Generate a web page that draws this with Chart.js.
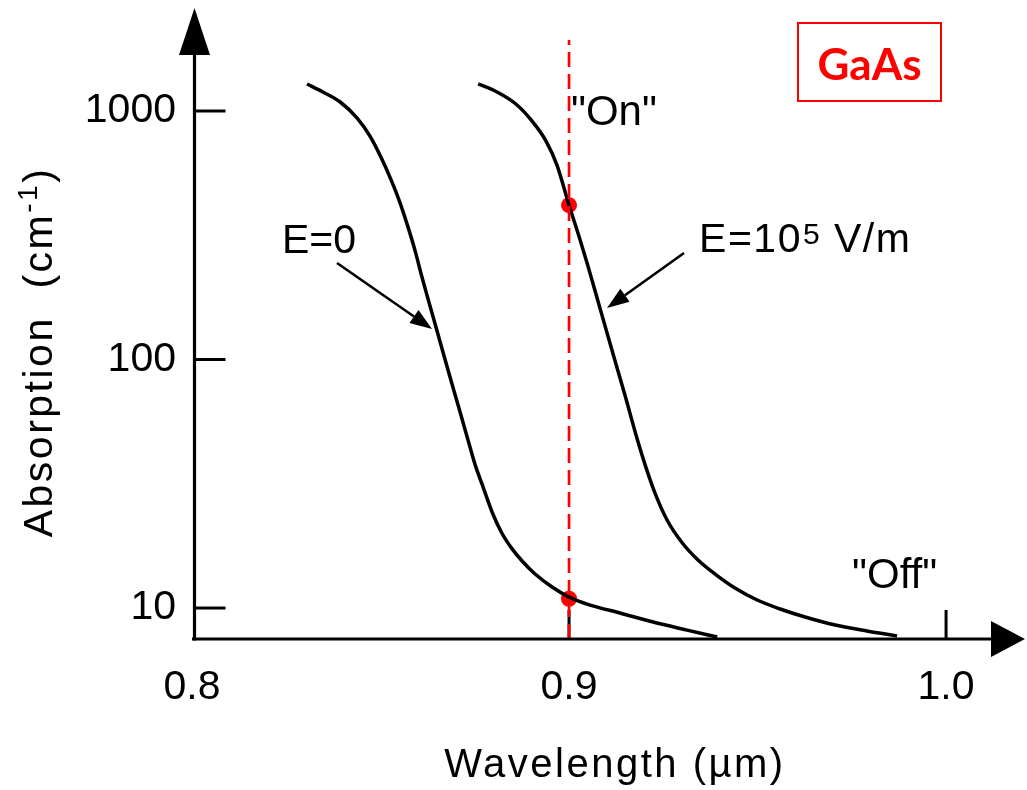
<!DOCTYPE html>
<html>
<head>
<meta charset="utf-8">
<script src="https://cdn.jsdelivr.net/npm/chart.js@4/dist/chart.umd.min.js"></script>
<style>
html,body{margin:0;padding:0;background:#ffffff;}
#wrap{width:1027px;height:790px;position:relative;}
</style>
</head>
<body>
<div id="wrap"><canvas id="c"></canvas></div>
<script>
// ---- data ----
const wavelengthE0 = [0.8305,0.8347,0.8393,0.8438,0.8472,0.8501,0.8528,0.8552,0.8573,0.8592,0.8607,0.8623,0.8642,0.8676,0.8711,0.8735,0.8753,0.8769,0.8798,0.8822,0.8849,0.8875,0.8910,0.8955,0.9000,0.9056,0.9135,0.9223,0.9313,0.9393];
const absorptionE0 = [1285,1193,1087,937,793,653,528,426,341,273,223,182,144,94.1,61.5,45.7,36.9,31.6,23.9,20.0,17.3,15.5,13.7,12.15,11.07,10.28,9.55,8.78,8.15,7.64];
const wavelengthE5 = [0.8759,0.8809,0.8859,0.8902,0.8939,0.8968,0.9000,0.9027,0.9048,0.9064,0.9082,0.9117,0.9149,0.9180,0.9202,0.9228,0.9260,0.9300,0.9342,0.9390,0.9440,0.9499,0.9560,0.9626,0.9706,0.9790,0.9870];
const absorptionE5 = [1285,1193,1067,911,757,606,418,311,244,201,161,105,71.3,48.3,37.6,29.0,22.6,18.3,15.6,13.6,12.04,10.77,9.91,9.20,8.54,8.08,7.72];
const markerWavelength = [0.9, 0.9];
const markerAbsorption = [10.9, 418];
const guideWavelength = [0.9, 0.9];
const guideAbsorption = [7.505, 1931];
const xTickValues = [0.8, 0.9, 1.0];
const xTickMarks = [0.9, 1.0];
const yTickValues = [10, 100, 1000];
const xRange = [0.8, 1.0212];
const yRange = [7.505, 2597];

const FONT = "'Liberation Sans', Arial, Helvetica, sans-serif";
const pts = (xs, ys) => xs.map((v, i) => ({x: v, y: ys[i]}));

function arrow(ctx, x1, y1, x2, y2, len, half) {
  const a = Math.atan2(y2 - y1, x2 - x1);
  const bx = x2 - len * Math.cos(a), by = y2 - len * Math.sin(a);
  ctx.beginPath(); ctx.moveTo(x1, y1); ctx.lineTo(bx, by); ctx.stroke();
  ctx.beginPath(); ctx.moveTo(x2, y2);
  ctx.lineTo(bx + half * Math.sin(a), by - half * Math.cos(a));
  ctx.lineTo(bx - half * Math.sin(a), by + half * Math.cos(a));
  ctx.closePath(); ctx.fill();
}

const axesPlugin = {
  id: 'axesPlugin',
  beforeDatasetsDraw(chart) {
    const {ctx, chartArea: a, scales: {x, y}} = chart;
    ctx.save();
    ctx.strokeStyle = '#000'; ctx.fillStyle = '#000'; ctx.lineWidth = 3;
    const ax = a.left + 2.5;
    yTickValues.forEach(v => {
      const py = y.getPixelForValue(v);
      ctx.beginPath(); ctx.moveTo(ax, py); ctx.lineTo(ax + 31, py); ctx.stroke();
    });
    xTickMarks.forEach(v => {
      const px = x.getPixelForValue(v);
      ctx.beginPath(); ctx.moveTo(px, a.bottom); ctx.lineTo(px, a.bottom - 29); ctx.stroke();
    });
    ctx.restore();
  },
  afterDatasetsDraw(chart) {
    const {ctx, chartArea: a, scales: {x, y}} = chart;
    const P = (xv, yv) => [x.getPixelForValue(xv), y.getPixelForValue(yv)];
    ctx.save();
    ctx.strokeStyle = '#000'; ctx.fillStyle = '#000'; ctx.lineWidth = 3.2;
    const ax = a.left + 2.5;
    arrow(ctx, ax, a.bottom + 1.5, ax, a.top, 47, 15.5);
    arrow(ctx, a.left, a.bottom, a.right - 1, a.bottom, 34, 18);

    ctx.textBaseline = 'alphabetic';
    ctx.font = '40px ' + FONT;
    try { ctx.letterSpacing = '2.5px'; } catch (e) {}
    ctx.textAlign = 'center';
    ctx.fillText('Wavelength (\u00b5m)', 615, 777);

    ctx.save();
    ctx.translate(52, 352);
    ctx.rotate(-Math.PI / 2);
    ctx.textAlign = 'left';
    ctx.font = '41px ' + FONT;
    const t1 = 'Absorption  (cm', t3 = ')';
    const w1 = ctx.measureText(t1).width, w3 = ctx.measureText(t3).width;
    ctx.font = '28px ' + FONT;
    const t2 = '-1';
    const w2 = ctx.measureText(t2).width;
    let sx = -(w1 + w2 + w3) / 2;
    ctx.font = '41px ' + FONT; ctx.fillText(t1, sx, 0); sx += w1;
    ctx.font = '28px ' + FONT; ctx.fillText(t2, sx, -15); sx += w2;
    ctx.font = '41px ' + FONT; ctx.fillText(t3, sx, 0);
    ctx.restore();
    try { ctx.letterSpacing = '0px'; } catch (e) {}

    ctx.textAlign = 'left';
    ctx.font = '41px ' + FONT;
    let p = P(0.82387, 268);
    ctx.fillText('E=0', p[0], p[1]);
    ctx.lineWidth = 2.6;
    let s = P(0.83846, 244.5), e = P(0.86366, 132.6);
    arrow(ctx, s[0], s[1], e[0], e[1], 22, 8);

    p = P(0.93448, 270.8);
    try { ctx.letterSpacing = '1.5px'; } catch (e2) {}
    ctx.font = '41px ' + FONT;
    const a1 = 'E=10', a2 = '5', a3 = ' V/m';
    ctx.fillText(a1, p[0], p[1]);
    let cx = p[0] + ctx.measureText(a1).width;
    ctx.font = '30px ' + FONT;
    ctx.fillText(a2, cx + 1, p[1] - 8);
    cx += ctx.measureText(a2).width + 1;
    ctx.font = '41px ' + FONT;
    ctx.fillText(a3, cx, p[1]);
    try { ctx.letterSpacing = '0px'; } catch (e2) {}
    s = P(0.93050, 268.3); e = P(0.91008, 161.2);
    arrow(ctx, s[0], s[1], e[0], e[1], 22, 8);

    ctx.font = '42px ' + FONT;
    p = P(0.90053, 878.5);
    ctx.fillText('"On"', p[0], p[1]);
    p = P(0.97507, 12.04);
    ctx.fillText('"Off"', p[0], p[1]);

    ctx.strokeStyle = '#ff0000'; ctx.lineWidth = 2;
    ctx.strokeRect(798, 23, 143, 78);
    ctx.fillStyle = '#ff0000';
    ctx.font = "bold 44px Lato, 'Open Sans', sans-serif";
    ctx.textAlign = 'center';
    ctx.fillText('GaAs', 869.5, 80);
    ctx.restore();
  }
};

function zeroPad(s) { s.paddingTop = 0; s.paddingBottom = 0; s.paddingLeft = 0; s.paddingRight = 0; }

new Chart(document.getElementById('c'), {
  type: 'scatter',
  data: {
    datasets: [
      {
        label: 'λ = 0.9 µm',
        data: pts(guideWavelength, guideAbsorption),
        showLine: true, borderColor: '#ff0000', borderWidth: 2.7,
        borderDash: [15, 7], pointRadius: 0, fill: false
      },
      {
        label: 'E=0',
        data: pts(wavelengthE0, absorptionE0),
        showLine: true, borderColor: '#000', borderWidth: 3.5,
        pointRadius: 0, cubicInterpolationMode: 'monotone', fill: false
      },
      {
        label: 'E=10^5 V/m',
        data: pts(wavelengthE5, absorptionE5),
        showLine: true, borderColor: '#000', borderWidth: 3.5,
        pointRadius: 0, cubicInterpolationMode: 'monotone', fill: false
      },
      {
        label: 'Operating points',
        data: pts(markerWavelength, markerAbsorption),
        showLine: false, pointRadius: 8, pointBackgroundColor: '#ff0000',
        pointBorderColor: '#ff0000', pointBorderWidth: 0, clip: false
      }
    ]
  },
  options: {
    responsive: true,
    maintainAspectRatio: false,
    animation: false,
    events: [],
    layout: {autoPadding: false, padding: {top: 8, right: 1, left: 0, bottom: 0}},
    plugins: {legend: {display: false}, tooltip: {enabled: false}},
    scales: {
      x: {
        type: 'linear', min: xRange[0], max: xRange[1],
        grid: {display: false, drawTicks: false},
        border: {display: false},
        afterFit: s => { s.height = 151; zeroPad(s); },
        afterBuildTicks: s => { s.ticks = xTickValues.map(v => ({value: v})); },
        ticks: {
          padding: 24, color: '#000', maxRotation: 0, autoSkip: false,
          font: {family: FONT, size: 41},
          callback: v => Number(v).toFixed(1)
        }
      },
      y: {
        type: 'logarithmic', min: yRange[0], max: yRange[1],
        grid: {display: false, drawTicks: false},
        border: {display: false},
        afterFit: s => { s.width = 192; zeroPad(s); },
        afterBuildTicks: s => { s.ticks = yTickValues.map(v => ({value: v})); },
        ticks: {
          padding: 16, color: '#000', autoSkip: false,
          font: {family: FONT, size: 41},
          callback: v => String(v)
        }
      }
    }
  },
  plugins: [axesPlugin]
});
</script>
</body>
</html>
